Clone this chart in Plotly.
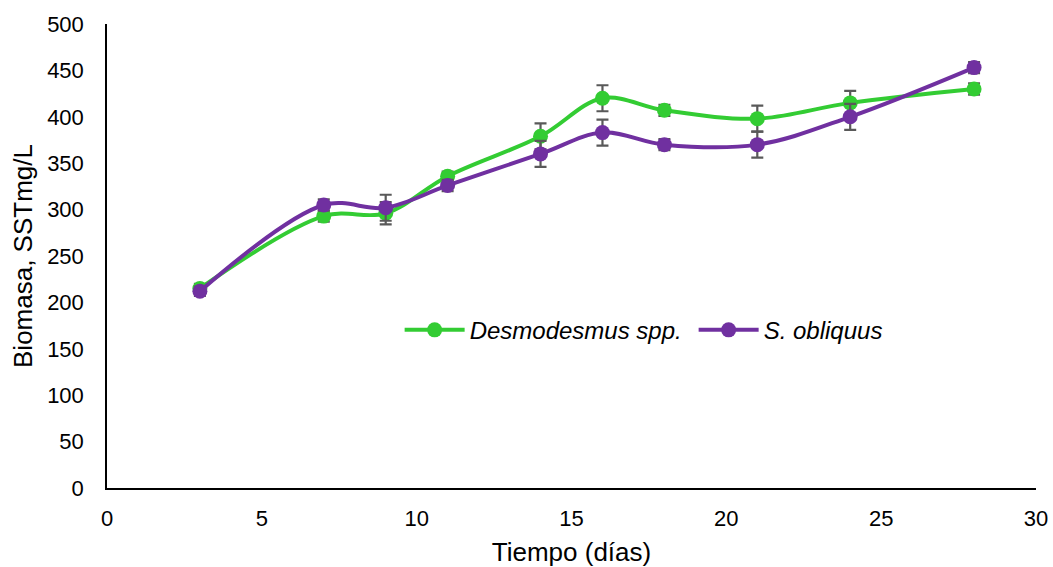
import plotly.graph_objects as go

dias = [3, 7, 9, 11, 14, 16, 18, 21, 24, 28]
desmo = [215, 293, 296, 336, 379, 420, 407, 398, 415, 430]
desmo_err = [5, 6, 12, 5, 14, 14, 6, 14, 13, 6]
sobl = [212, 305, 302, 326, 360, 383, 370, 370, 400, 453]
sobl_err = [5, 6, 14, 6, 14, 14, 6, 14, 14, 6]

fig = go.Figure()
for name, y, e, c in [("Desmodesmus spp.", desmo, desmo_err, "#33CC33"),
                      ("S. obliquus", sobl, sobl_err, "#7030A0")]:
    fig.add_trace(go.Scatter(
        x=dias, y=y, name=name, mode="lines+markers",
        line=dict(color=c, width=4, shape="spline", smoothing=1),
        marker=dict(color=c, size=15),
        error_y=dict(type="data", array=e, visible=True, color="#595959", thickness=2.2, width=6),
    ))

fig.update_layout(
    width=1053, height=567,
    margin=dict(l=107, r=17, t=24, b=79, autoexpand=False),
    plot_bgcolor="white", paper_bgcolor="white",
    font=dict(family="Liberation Sans, Arial", size=22, color="black"),
    legend=dict(orientation="h", x=0.315, y=0.34, xanchor="left", yanchor="middle",
                font=dict(size=24, style="italic"), bgcolor="rgba(0,0,0,0)",
                itemwidth=60, entrywidth=219, entrywidthmode="pixels"),
    xaxis=dict(range=[0, 30], dtick=5, showgrid=False, zeroline=False,
               showline=True, linecolor="black", linewidth=1.5,
               ticklabelstandoff=10, automargin=False, ticklabeloverflow="allow",
               tickfont=dict(size=22),
               title=dict(text="Tiempo (días)", font=dict(size=26), standoff=16)),
    yaxis=dict(range=[0, 500], dtick=50, showgrid=False, zeroline=False,
               showline=True, linecolor="black", linewidth=1.5,
               ticklabelstandoff=17, automargin=False, ticklabeloverflow="allow",
               tickfont=dict(size=22),
               title=dict(text="Biomasa, SSTmg/L", font=dict(size=26), standoff=7)),
)
fig.write_html("out.html", config={"displayModeBar": False},
               post_script="document.body.style.margin='0';")
